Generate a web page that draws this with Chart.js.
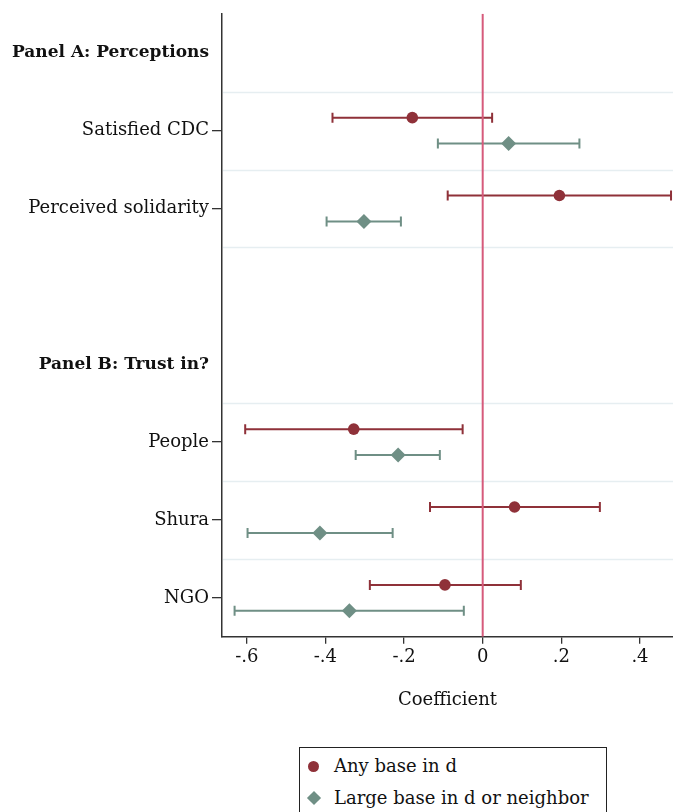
<!DOCTYPE html>
<html>
<head>
<meta charset="utf-8">
<script src="https://cdn.jsdelivr.net/npm/chart.js@4/dist/chart.umd.min.js"></script>
<style>
  body { margin: 0; background: #fff; }
  #wrap { position: relative; width: 673px; height: 812px; overflow: hidden; }
  #legend {
    position: absolute; left: 299px; top: 747px; width: 306px; height: 80px;
    border: 1px solid #222; background: #fff;
    font-family: "DejaVu Serif", serif; font-size: 18px; color: #111;
  }
  #legend .item { position: absolute; left: 0; height: 24px; line-height: 24px; white-space: nowrap; }
  #legend .txt { position: absolute; left: 34px; top: 0; }
  #legend .dot { position: absolute; left: 8px; top: 7px; width: 11px; height: 11px; border-radius: 50%; background: #8f3139; }
  #legend .dia { position: absolute; left: 9px; top: 7px; width: 10px; height: 10px; transform: rotate(45deg); background: #6f8f85; }
</style>
</head>
<body>
<div id="wrap">
  <canvas id="coefplot" width="673" height="812"></canvas>
  <div id="legend">
    <div class="item" style="top:6px"><span class="dot"></span><span class="txt">Any base in d</span></div>
    <div class="item" style="top:38px"><span class="dia"></span><span class="txt">Large base in d or neighbor</span></div>
  </div>
</div>
<script>
// row labels, top to bottom (blank slot separates the two panels)
const yLabels = ['Panel A: Perceptions', 'Satisfied CDC', 'Perceived solidarity', '',
                 'Panel B: Trust in?', 'People', 'Shura', 'NGO'];
const headerRows = [0, 4];

const outcomes = ['Satisfied CDC', 'Perceived solidarity', 'People', 'Shura', 'NGO'];

// any base in district
const anyBase   = [-0.179,  0.195, -0.328,  0.081, -0.096];
const anyBaseLo = [-0.382, -0.089, -0.604, -0.134, -0.287];
const anyBaseHi = [ 0.024,  0.479, -0.051,  0.298,  0.097];

// large base in district or neighbouring district
const largeBase   = [ 0.066, -0.302, -0.215, -0.414, -0.339];
const largeBaseLo = [-0.114, -0.397, -0.323, -0.598, -0.631];
const largeBaseHi = [ 0.246, -0.208, -0.109, -0.229, -0.048];

const xTicks = [-0.6, -0.4, -0.2, 0, 0.2, 0.4];

const RED = '#8f3139';
const GREEN = '#6f8f85';

function rowY(name, shift) {
  return yLabels.indexOf(name) + 0.5 + shift;
}

function series(est, lo, hi, shift) {
  return outcomes.map((o, i) => ({ x: est[i], y: rowY(o, shift), lo: lo[i], hi: hi[i] }));
}

function isHeader(ctx) {
  return !!(ctx && ctx.tick && headerRows.includes(Math.floor(ctx.tick.value)));
}

// row separators, then confidence intervals underneath the markers
const ciPlugin = {
  id: 'ciBars',
  beforeDatasetsDraw(chart) {
    const { ctx, chartArea, scales: { x, y } } = chart;
    ctx.save();
    ctx.strokeStyle = '#e6eef1';
    ctx.lineWidth = 1.5;
    for (let i = 1; i < yLabels.length; i++) {
      if (headerRows.includes(i)) continue;
      const py = Math.round(y.getPixelForValue(i)) + 0.5;
      ctx.beginPath();
      ctx.moveTo(chartArea.left + 1, py);
      ctx.lineTo(chartArea.right, py);
      ctx.stroke();
    }

    chart.data.datasets.forEach(ds => {
      if (!ds.ci) return;
      ctx.strokeStyle = ds.borderColor;
      ctx.lineWidth = 2;
      ds.data.forEach(p => {
        const py = y.getPixelForValue(p.y);
        const x0 = x.getPixelForValue(p.lo);
        const x1 = x.getPixelForValue(p.hi);
        ctx.beginPath();
        ctx.moveTo(x0, py); ctx.lineTo(x1, py);
        ctx.moveTo(x0, py - 5); ctx.lineTo(x0, py + 5);
        ctx.moveTo(x1, py - 5); ctx.lineTo(x1, py + 5);
        ctx.stroke();
      });
    });
    ctx.restore();
  }
};

const serif = '"DejaVu Serif", serif';

new Chart(document.getElementById('coefplot'), {
  type: 'scatter',
  data: {
    datasets: [
      {
        label: 'Zero',
        type: 'line',
        data: [{ x: 0, y: 0 }, { x: 0, y: yLabels.length }],
        borderColor: '#d65a7b',
        borderWidth: 2,
        pointRadius: 0,
        order: 0
      },
      {
        label: 'Any base in d',
        ci: true,
        data: series(anyBase, anyBaseLo, anyBaseHi, -1 / 6),
        backgroundColor: RED,
        borderColor: RED,
        borderWidth: 0,
        pointStyle: 'circle',
        pointRadius: 5.8,
        order: 1
      },
      {
        label: 'Large base in d or neighbor',
        ci: true,
        data: series(largeBase, largeBaseLo, largeBaseHi, 1 / 6),
        backgroundColor: GREEN,
        borderColor: GREEN,
        borderWidth: 0,
        pointStyle: 'rectRot',
        pointRadius: 7.5,
        order: 1
      }
    ]
  },
  options: {
    responsive: false,
    animation: false,
    layout: { autoPadding: false, padding: { top: 12, right: 0, bottom: 101, left: 0 } },
    plugins: {
      legend: { display: false },
      tooltip: { enabled: false }
    },
    scales: {
      x: {
        type: 'linear',
        min: -0.663,
        max: 0.484,
        afterBuildTicks: s => { s.ticks = xTicks.map(v => ({ value: v })); },
        afterFit: s => { s.paddingLeft = 0; s.paddingRight = 0; },
        ticks: {
          color: '#111',
          padding: 3,
          font: { family: serif, size: 18 },
          callback: v => v === 0 ? '0' : (v < 0 ? '-' : '') + String(Math.abs(Math.round(v * 10) / 10)).replace(/^0/, '')
        },
        grid: { drawOnChartArea: false, drawTicks: true, tickLength: 7, color: '#333', lineWidth: 1.3 },
        border: { display: true, color: '#333', width: 1.5 },
        title: {
          display: true,
          text: 'Coefficient',
          color: '#111',
          font: { family: serif, size: 18 },
          padding: { top: 18, bottom: 0 }
        }
      },
      y: {
        type: 'linear',
        reverse: true,
        min: 0,
        max: yLabels.length,
        afterFit: s => { s.width = 222; },
        afterBuildTicks: s => {
          s.ticks = yLabels.map((l, i) => ({ value: i + 0.5 })).filter((t, i) => yLabels[i] !== '');
        },
        ticks: {
          color: '#111',
          padding: 3,
          autoSkip: false,
          font: ctx => ({ family: serif, size: isHeader(ctx) ? 17 : 18, weight: isHeader(ctx) ? 'bold' : 'normal' }),
          callback: v => yLabels[Math.floor(v)]
        },
        grid: {
          drawOnChartArea: false,
          drawTicks: true,
          tickLength: 10,
          lineWidth: 1.3,
          color: ctx => isHeader(ctx) ? 'rgba(0,0,0,0)' : '#333'
        },
        border: { display: true, color: '#333', width: 1.5 }
      }
    }
  },
  plugins: [ciPlugin]
});
</script>
</body>
</html>
